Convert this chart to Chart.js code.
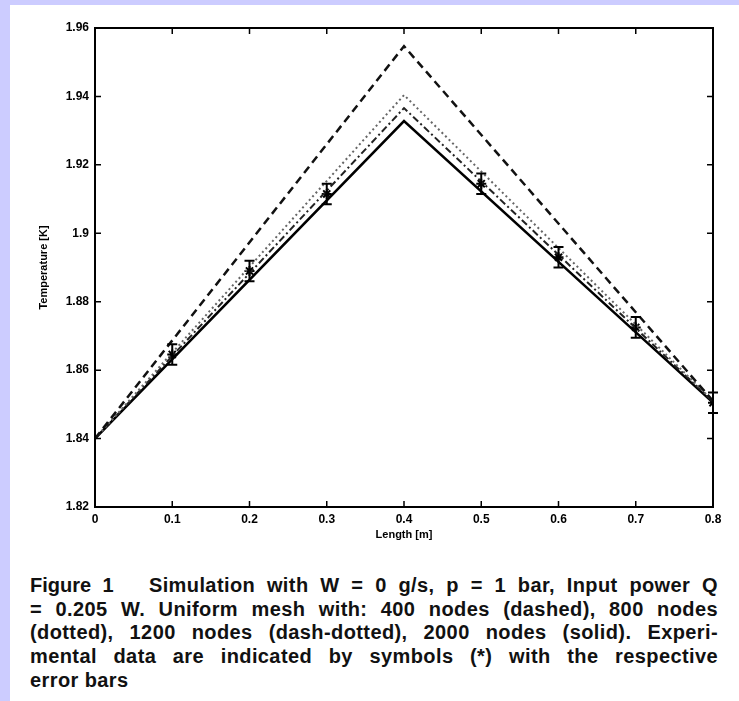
<!DOCTYPE html>
<html lang="en">

<head>
    <meta charset="UTF-8">
    <title>Figure 1 - Temperature vs Length</title>
    <script src="https://cdn.jsdelivr.net/npm/chart.js"></script>
    <style>
        body {
            margin: 0;
            padding: 0;
            background-color: rgb(204, 204, 255);
            font-family: 'Liberation Sans', Arial, sans-serif;
        }

        .page {
            position: absolute;
            left: 10px;
            top: 5px;
            width: 729px;
            height: 696px;
            background-color: #ffffff;
        }

        #tempChart {
            position: absolute;
            left: 0;
            top: 0;
        }

        .caption {
            position: absolute;
            left: 20px;
            top: 569px;
            width: 688px;
            font-size: 20px;
            font-weight: bold;
            letter-spacing: 0.4px;
            line-height: 23.7px;
            color: #111;
        }

        .caption div {
            white-space: nowrap;
            text-align: justify;
            text-align-last: justify;
        }

        .caption div.last {
            text-align-last: left;
        }

        .caption b {
            font-weight: 900;
            letter-spacing: 0;
        }
    </style>
</head>

<body>
    <div class="page">
        <canvas id="tempChart" width="729" height="547"></canvas>
        <div class="caption">
            <div><b>Figure 1</b>&nbsp;&nbsp; Simulation with W = 0 g/s, p = 1 bar, Input power Q</div>
            <div>= 0.205 W. Uniform mesh with: 400 nodes (dashed), 800 nodes</div>
            <div>(dotted), 1200 nodes (dash-dotted), 2000 nodes (solid). Experi-</div>
            <div>mental data are indicated by symbols (*) with the respective</div>
            <div class="last">error bars</div>
        </div>
    </div>

    <script>
        // values
        var lineX = [0, 0.4, 0.8];
        var dashed400 = [1.84, 1.9547, 1.851];
        var dotted800 = [1.84, 1.9404, 1.851];
        var dashDot1200 = [1.84, 1.9366, 1.8508];
        var solid2000 = [1.84, 1.9328, 1.8505];

        var expX = [0.1, 0.2, 0.3, 0.5, 0.6, 0.7, 0.8];
        var expY = [1.8646, 1.889, 1.9115, 1.9145, 1.893, 1.8725, 1.8505];
        var expErr = [0.003, 0.003, 0.003, 0.003, 0.003, 0.003, 0.003];

        var xTicks = [0, 0.1, 0.2, 0.3, 0.4, 0.5, 0.6, 0.7, 0.8];
        var xTickLabels = ['0', '0.1', '0.2', '0.3', '0.4', '0.5', '0.6', '0.7', '0.8'];
        var yTicks = [1.82, 1.84, 1.86, 1.88, 1.9, 1.92, 1.94, 1.96];
        var yTickLabels = ['1.82', '1.84', '1.86', '1.88', '1.9', '1.92', '1.94', '1.96'];

        function toPoints(xs, ys) {
            return xs.map(function (x, i) { return { x: x, y: ys[i] }; });
        }

        // error bars for the experimental points
        const errorBars = {
            id: 'errorBars',
            afterDatasetsDraw(chart) {
                const ctx = chart.ctx;
                const xs = chart.scales.x;
                const ys = chart.scales.y;
                ctx.save();
                ctx.strokeStyle = '#000';
                ctx.lineWidth = 2;
                expX.forEach(function (x, i) {
                    const px = xs.getPixelForValue(x);
                    const top = ys.getPixelForValue(expY[i] + expErr[i]);
                    const bot = ys.getPixelForValue(expY[i] - expErr[i]);
                    ctx.beginPath();
                    ctx.moveTo(px, top);
                    ctx.lineTo(px, bot);
                    ctx.moveTo(px - 5, top);
                    ctx.lineTo(px + 5, top);
                    ctx.moveTo(px - 5, bot);
                    ctx.lineTo(px + 5, bot);
                    ctx.stroke();
                });
                ctx.restore();
            }
        };

        // box around the plot with inward ticks on all sides
        const frameTicks = {
            id: 'frameTicks',
            afterDraw(chart) {
                const ctx = chart.ctx;
                const area = chart.chartArea;
                const xs = chart.scales.x;
                const ys = chart.scales.y;
                ctx.save();
                ctx.strokeStyle = '#000';
                ctx.lineWidth = 2;
                ctx.strokeRect(area.left, area.top, area.right - area.left, area.bottom - area.top);
                ctx.lineWidth = 1.5;
                ctx.beginPath();
                xTicks.forEach(function (v) {
                    const px = xs.getPixelForValue(v);
                    ctx.moveTo(px, area.bottom);
                    ctx.lineTo(px, area.bottom - 6);
                    ctx.moveTo(px, area.top);
                    ctx.lineTo(px, area.top + 6);
                });
                yTicks.forEach(function (v) {
                    const py = ys.getPixelForValue(v);
                    ctx.moveTo(area.left, py);
                    ctx.lineTo(area.left + 6, py);
                    ctx.moveTo(area.right, py);
                    ctx.lineTo(area.right - 6, py);
                });
                ctx.stroke();
                ctx.restore();
            }
        };

        const tickFont = { family: "'Liberation Sans', Arial, sans-serif", size: 12, weight: 'bold' };
        const titleFont = { family: "'Liberation Sans', Arial, sans-serif", size: 11, weight: 'bold' };

        const chartCtx = document.getElementById('tempChart').getContext('2d');
        const tempChart = new Chart(chartCtx, {
            type: 'scatter',
            data: {
                datasets: [{
                    label: '400 nodes',
                    data: toPoints(lineX, dashed400),
                    showLine: true,
                    borderColor: '#111',
                    borderWidth: 2.5,
                    borderDash: [8, 5],
                    pointRadius: 0
                }, {
                    label: '800 nodes',
                    data: toPoints(lineX, dotted800),
                    showLine: true,
                    borderColor: '#666',
                    borderWidth: 2,
                    borderDash: [2, 3],
                    pointRadius: 0
                }, {
                    label: '1200 nodes',
                    data: toPoints(lineX, dashDot1200),
                    showLine: true,
                    borderColor: '#222',
                    borderWidth: 2,
                    borderDash: [7, 3, 2, 3],
                    pointRadius: 0
                }, {
                    label: '2000 nodes',
                    data: toPoints(lineX, solid2000),
                    showLine: true,
                    borderColor: '#000',
                    borderWidth: 2.5,
                    pointRadius: 0
                }, {
                    label: 'Experimental',
                    data: toPoints(expX, expY),
                    showLine: false,
                    pointStyle: 'star',
                    pointRadius: 5,
                    borderColor: '#000',
                    borderWidth: 2
                }]
            },
            options: {
                responsive: false,
                animation: false,
                layout: {
                    padding: { left: 0, right: 26, top: 23, bottom: 0 }
                },
                scales: {
                    x: {
                        type: 'linear',
                        min: 0,
                        max: 0.8,
                        afterBuildTicks: function (scale) {
                            scale.ticks = xTicks.map(function (v) { return { value: v }; });
                        },
                        afterFit: function (scale) { scale.height = 45; },
                        ticks: {
                            color: '#000',
                            font: tickFont,
                            padding: 5,
                            maxRotation: 0,
                            callback: function (value, index) { return xTickLabels[index]; }
                        },
                        grid: { display: false, drawTicks: false },
                        border: { display: false },
                        title: {
                            display: true,
                            text: 'Length [m]',
                            color: '#000',
                            font: titleFont,
                            padding: { top: 0, bottom: 10 }
                        }
                    },
                    y: {
                        type: 'linear',
                        min: 1.82,
                        max: 1.96,
                        afterBuildTicks: function (scale) {
                            scale.ticks = yTicks.map(function (v) { return { value: v }; });
                        },
                        afterFit: function (scale) { scale.width = 85; },
                        ticks: {
                            color: '#000',
                            font: tickFont,
                            padding: 6,
                            callback: function (value, index) { return yTickLabels[index]; }
                        },
                        grid: { display: false, drawTicks: false },
                        border: { display: false },
                        title: {
                            display: true,
                            text: 'Temperature [K]',
                            color: '#000',
                            font: titleFont,
                            padding: { top: 27, bottom: 0 }
                        }
                    }
                },
                plugins: {
                    legend: { display: false },
                    tooltip: { enabled: false }
                }
            },
            plugins: [errorBars, frameTicks]
        });
    </script>
</body>

</html>
